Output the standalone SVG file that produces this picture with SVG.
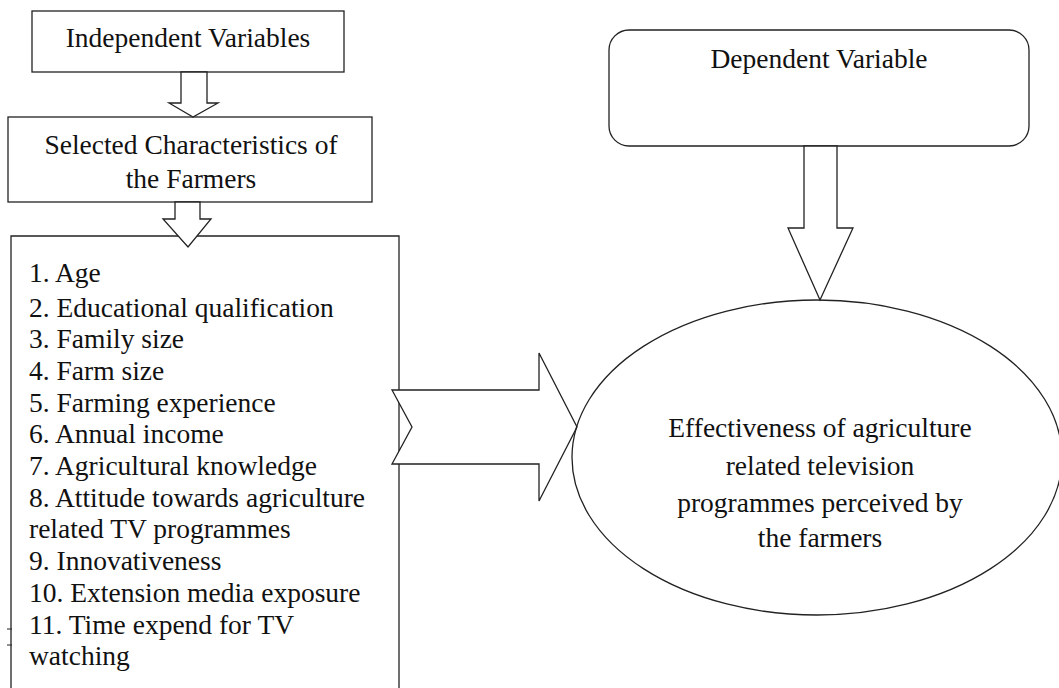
<svg xmlns="http://www.w3.org/2000/svg" width="1059" height="688" viewBox="0 0 1059 688">
<style>
.s{fill:#fff;stroke:#222;stroke-width:1.3}
.o{fill:none;stroke:#222;stroke-width:1.3}
text{font-family:'Liberation Serif','Times New Roman',serif;font-size:27.5px;fill:#111}
.c{text-anchor:middle}
</style>
<rect width="1059" height="688" fill="#fff"/>
<g id="n1">
<rect class="s" x="32" y="11" width="312" height="61"/>
<text class="c" x="188" y="47">Independent Variables</text>
</g>
<g id="n2">
<rect class="s" x="8" y="117" width="364" height="85"/>
<text class="c" x="191" y="154">Selected Characteristics of</text>
<text class="c" x="191" y="188">the Farmers</text>
</g>
<g id="n3">
<path class="s" d="M11,695 V236 H399 V695"/>
<path d="M7,629 H12 M7,645 H12" stroke="#222" stroke-width="1.2"/>
<text>
<tspan x="29" y="282">1. Age</tspan>
<tspan x="29" y="317">2. Educational qualification</tspan>
<tspan x="29" y="348">3. Family size</tspan>
<tspan x="29" y="380">4. Farm size</tspan>
<tspan x="29" y="412">5. Farming experience</tspan>
<tspan x="29" y="443">6. Annual income</tspan>
<tspan x="29" y="475">7. Agricultural knowledge</tspan>
<tspan x="29" y="507">8. Attitude towards agriculture</tspan>
<tspan x="29" y="538">related TV programmes</tspan>
<tspan x="29" y="570">9. Innovativeness</tspan>
<tspan x="29" y="602">10. Extension media exposure</tspan>
<tspan x="29" y="634">11. Time expend for TV</tspan>
<tspan x="29" y="665">watching</tspan>
</text>
</g>
<g id="n4">
<rect class="s" x="609" y="30" width="420" height="116" rx="20" ry="20"/>
<text class="c" x="819" y="68">Dependent Variable</text>
</g>
<g id="connectors">
<path class="s" d="M181,72 V103 H169 L193,117 L218,103 H207 V72 Z"/>
<path class="s" d="M175,202 V219 H163 L188,247 L211,219 H200 V202 Z"/>
<path class="s" d="M804,146 V228 H788 L820,300 L853,228 H837 V146 Z"/>
<path class="s" d="M392,390 H539 V353 L577,427 L539,501 V464 H392 L412,427 Z"/>
</g>
<g id="n5">
<ellipse class="o" cx="817" cy="457.5" rx="245" ry="157.5"/>
<text class="c" x="820" y="437">Effectiveness of agriculture</text>
<text class="c" x="820" y="475">related television</text>
<text class="c" x="820" y="512">programmes perceived by</text>
<text class="c" x="820" y="547">the farmers</text>
</g>
</svg>
